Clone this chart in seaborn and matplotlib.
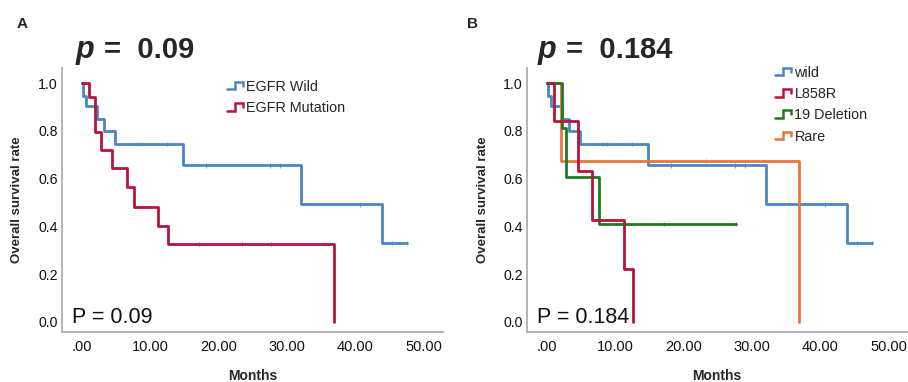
import numpy as np
import pandas as pd
import matplotlib
matplotlib.use("Agg")
import matplotlib.pyplot as plt
from matplotlib.legend_handler import HandlerBase
from matplotlib.lines import Line2D
import seaborn as sns

# ---------------- data ----------------
# Panel A
wild_t = [0, 0.15, 0.63, 2.19, 3.31, 4.87, 14.85, 32.0, 43.9, 47.5]
wild_s = [1.0, 0.944, 0.902, 0.849, 0.80, 0.745, 0.655, 0.492, 0.331, 0.331]
wild_cens = [8.0, 8.4, 8.8, 12.4, 18.2, 27.5, 29.0, 40.7, 45.3, 47.5]

mut_t = [0, 1.12, 1.95, 2.82, 4.38, 6.57, 7.64, 11.2, 12.65, 36.9]
mut_s = [1.0, 0.94, 0.794, 0.72, 0.643, 0.564, 0.483, 0.403, 0.326, 0.0]
mut_cens = [17.2, 23.4, 27.6]

# Panel B
l858_t = [0, 1.02, 4.52, 6.57, 11.33, 12.65]
l858_s = [1.0, 0.842, 0.632, 0.427, 0.22, 0.0]
l858_cens = []

del19_t = [0, 2.19, 2.87, 7.68, 27.6]
del19_s = [1.0, 0.811, 0.608, 0.41, 0.41]
del19_cens = [0.3, 17.2, 27.6]

rare_t = [0, 2.0, 36.9]
rare_s = [1.0, 0.675, 0.0]
rare_cens = [23.2]

labels_a = ["EGFR Wild", "EGFR Mutation"]
labels_b = ["wild", "L858R", "19 Deletion", "Rare"]
xtick_vals = [0, 10, 20, 30, 40, 50]
xtick_labels = [".00", "10.00", "20.00", "30.00", "40.00", "50.00"]
ytick_vals = [0.0, 0.2, 0.4, 0.6, 0.8, 1.0]
ytick_labels = ["0.0", "0.2", "0.4", "0.6", "0.8", "1.0"]

C_BLUE = "#4a86c6"
C_RED = "#b8133a"
C_GREEN = "#1f7a1f"
C_ORANGE = "#e8763a"

# ---------------- style ----------------
sns.set_theme(style="white")
plt.rcParams["font.family"] = ["Liberation Sans", "DejaVu Sans"]

W, H = 908, 382
fig = plt.figure(figsize=(W / 100, H / 100), dpi=100)


def px_axes(l, r, t, b):
    return fig.add_axes([l / W, 1 - b / H, (r - l) / W, (b - t) / H])


def build_df(groups):
    rows = []
    for name, t, s in groups:
        for ti, si in zip(t, s):
            rows.append({"time": ti, "surv": si, "group": name})
    return pd.DataFrame(rows)


def build_cens(groups):
    rows = []
    for name, t, s, c in groups:
        t_arr = np.asarray(t)
        s_arr = np.asarray(s)
        for ci in c:
            idx = np.searchsorted(t_arr, ci, side="right") - 1
            rows.append({"time": ci, "surv": s_arr[idx], "group": name})
    return pd.DataFrame(rows, columns=["time", "surv", "group"])


class StepHandler(HandlerBase):
    def create_artists(self, legend, orig_handle, xdescent, ydescent,
                       width, height, fontsize, trans):
        x0, y0 = -xdescent, -ydescent
        xs = np.array([0.0, 0.45, 0.45, 0.9, 0.9]) * width + x0
        ys = np.array([0.15, 0.15, 0.9, 0.9, 0.5]) * height + y0
        ln = Line2D(xs, ys, color=orig_handle.get_color(), lw=1.8,
                    solid_joinstyle="miter")
        ln.set_transform(trans)
        return [ln]


def style_axes(ax):
    ax.set_xlim(-2.9, 52.8)
    ax.set_ylim(-0.042, 1.063)
    ax.set_xticks(xtick_vals)
    ax.set_xticklabels(xtick_labels, fontsize=10.5)
    ax.set_yticks(ytick_vals)
    ax.set_yticklabels(ytick_labels, fontsize=10.2)
    ax.tick_params(axis="x", length=0, pad=6, colors="#111111")
    ax.tick_params(axis="y", length=0, pad=3, colors="#111111")
    for side in ["top", "right"]:
        ax.spines[side].set_visible(False)
    for side in ["left", "bottom"]:
        ax.spines[side].set_color("#b4b4b4")
        ax.spines[side].set_linewidth(1.4)
    ax.set_xlabel("")
    ax.set_ylabel("")
    ax.grid(False)


def draw_panel(ax, groups, palette):
    df = build_df([(n, t, s) for n, t, s, c in groups])
    sns.lineplot(data=df, x="time", y="surv", hue="group", palette=palette,
                 estimator=None, sort=False, drawstyle="steps-post",
                 linewidth=2.0, legend=False, ax=ax)
    cdf = build_cens(groups)
    if len(cdf):
        sns.scatterplot(data=cdf, x="time", y="surv", hue="group",
                        palette=palette, marker="|", s=10, linewidth=0.8,
                        alpha=0.7, legend=False, ax=ax, zorder=3)
    style_axes(ax)


# ---------------- panel A ----------------
axA = px_axes(62, 443, 68, 332)
groupsA = [
    (labels_a[0], wild_t, wild_s, wild_cens),
    (labels_a[1], mut_t, mut_s, mut_cens),
]
palA = {labels_a[0]: C_BLUE, labels_a[1]: C_RED}
draw_panel(axA, groupsA, palA)

# ---------------- panel B ----------------
axB = px_axes(527, 908, 68, 332)
groupsB = [
    (labels_b[0], wild_t, wild_s, wild_cens),
    (labels_b[3], rare_t, rare_s, rare_cens),
    (labels_b[2], del19_t, del19_s, del19_cens),
    (labels_b[1], l858_t, l858_s, l858_cens),
]
palB = {labels_b[0]: C_BLUE, labels_b[1]: C_RED,
        labels_b[2]: C_GREEN, labels_b[3]: C_ORANGE}
draw_panel(axB, groupsB, palB)

# ---------------- legends ----------------
def add_legend(labels, palette, x, y):
    handles = [Line2D([], [], color=palette[l]) for l in labels]
    fig.legend(handles, labels, loc="upper left",
               bbox_to_anchor=(x / W, 1 - y / H),
               bbox_transform=fig.transFigure,
               frameon=False, fontsize=10.4, handlelength=1.2,
               handletextpad=0.15, labelspacing=0.5, borderpad=0,
               borderaxespad=0, handler_map={Line2D: StepHandler()})

add_legend(labels_a, palA, 227, 80)
add_legend(labels_b, palB, 775, 66)

# ---------------- text ----------------
def ptitle(x_p, x_rest, value):
    yb = 1 - 58 / H
    fig.text(x_p / W, yb, "p", fontsize=22, fontweight="bold",
             fontstyle="italic", ha="left", va="baseline")
    fig.text(x_rest / W, yb, "=  " + value, fontsize=21, fontweight="bold",
             ha="left", va="baseline")

fig.text(17 / W, 1 - 28 / H, "A", fontsize=11, fontweight="bold",
         ha="left", va="baseline")
fig.text(467 / W, 1 - 28 / H, "B", fontsize=11, fontweight="bold",
         ha="left", va="baseline")
ptitle(76, 104, "0.09")
ptitle(538, 566, "0.184")

for ax, txt in [(axA, "P = 0.09"), (axB, "P = 0.184")]:
    ax.text(0.027, 0.035, txt, transform=ax.transAxes, fontsize=15.5,
            ha="left", va="baseline", color="#111111")

fig.text(17 / W, 1 - 200 / H, "Overall survival rate", rotation=90,
         fontsize=9.5, fontweight="bold", ha="center", va="center")
fig.text(483 / W, 1 - 200 / H, "Overall survival rate", rotation=90,
         fontsize=9.5, fontweight="bold", ha="center", va="center")
fig.text(253 / W, 1 - 376 / H, "Months", fontsize=10, fontweight="bold",
         ha="center", va="center")
fig.text(717 / W, 1 - 376 / H, "Months", fontsize=10, fontweight="bold",
         ha="center", va="center")

fig.savefig("out.png", dpi=100)
